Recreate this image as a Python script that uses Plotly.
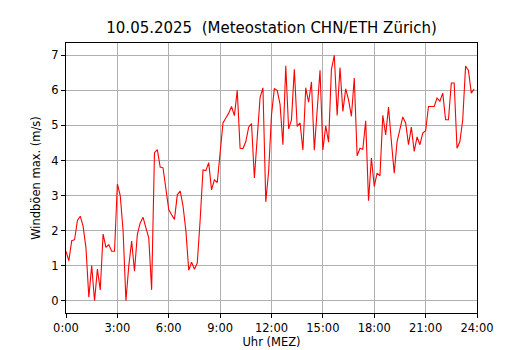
import plotly.graph_objects as go

# 10-minute steps from 0:00 to 23:50
step_minutes = 10
gust_values = [
    1.41, 1.14, 1.71, 1.74, 2.29, 2.41, 2.12, 1.50, 0.10, 1.00,
    0.00, 0.90, 0.31, 1.90, 1.52, 1.60, 1.41, 1.41, 3.33, 3.00,
    2.00, 0.00, 1.00, 1.70, 0.84, 1.89, 2.22, 2.38, 2.08, 1.79,
    0.31, 4.22, 4.31, 3.81, 3.79, 3.20, 2.60, 2.45, 2.32, 3.02,
    3.13, 2.70, 2.00, 0.87, 1.10, 0.90, 1.08, 2.30, 3.73, 3.71,
    3.94, 3.16, 3.45, 3.37, 4.30, 5.07, 5.21, 5.35, 5.54, 5.28,
    6.00, 4.35, 4.34, 4.54, 4.95, 5.05, 3.50, 4.60, 5.80, 6.07,
    2.82, 3.70, 5.30, 6.05, 6.00, 5.60, 4.45, 6.70, 4.90, 5.16,
    6.60, 4.97, 5.07, 4.30, 6.07, 5.66, 6.24, 4.29, 5.45, 6.57,
    4.30, 4.99, 4.52, 6.60, 7.00, 5.28, 6.65, 5.40, 6.04, 5.73,
    5.26, 6.35, 4.13, 4.35, 4.32, 5.13, 2.85, 4.07, 3.26, 3.64,
    3.56, 5.29, 4.73, 5.52, 4.54, 3.64, 4.54, 4.92, 5.24, 5.07,
    4.45, 4.95, 4.26, 4.67, 4.45, 4.78, 4.85, 5.54, 5.54, 5.54,
    5.78, 5.69, 5.92, 5.16, 5.16, 6.21, 6.21, 4.35, 4.54, 5.16,
    6.69, 6.57, 5.92, 6.04,
]
hours = [i * step_minutes / 60 for i in range(len(gust_values))]

x_tick_vals = [0, 3, 6, 9, 12, 15, 18, 21, 24]
x_tick_text = ["0:00", "3:00", "6:00", "9:00", "12:00", "15:00", "18:00", "21:00", "24:00"]
y_tick_vals = [0, 1, 2, 3, 4, 5, 6, 7]

title_text = "10.05.2025  (Meteostation CHN/ETH Zürich)"
x_label = "Uhr (MEZ)"
y_label = "Windböen max. (m/s)"

font_family = "DejaVu Sans"

fig = go.Figure()
fig.add_trace(go.Scatter(
    x=hours, y=gust_values, mode="lines",
    line=dict(color="#ff0000", width=1.1),
    showlegend=False,
))

axis_common = dict(
    showline=True, mirror=True, linecolor="black", linewidth=1,
    ticks="outside", ticklen=4, tickwidth=1, tickcolor="black",
    showgrid=True, gridcolor="#b0b0b0", gridwidth=1,
    zeroline=False, automargin=False,
    tickfont=dict(family=font_family, size=11.5, color="black"),
)

fig.update_layout(
    width=530, height=350,
    margin=dict(l=66, r=53, t=43, b=37),
    paper_bgcolor="white", plot_bgcolor="white",
    font=dict(family=font_family, color="black"),
    title=dict(
        text=title_text, x=0.5124, xanchor="center",
        y=1 - 28 / 350, yref="container", yanchor="middle",
        automargin=False,
        font=dict(family=font_family, size=15, color="black"),
    ),
    xaxis=dict(
        range=[0, 24], tickvals=x_tick_vals, ticktext=x_tick_text,
        title=dict(text=x_label, standoff=2,
                   font=dict(family=font_family, size=11.5, color="black")),
        **axis_common,
    ),
    yaxis=dict(
        range=[-0.35, 7.35], tickvals=y_tick_vals,
        title=dict(text=y_label, standoff=8,
                   font=dict(family=font_family, size=11.5, color="black")),
        **axis_common,
    ),
)

fig.write_html(
    "out.html",
    config={"displayModeBar": False},
    post_script="document.body.style.margin='0';document.body.style.padding='0';",
)
